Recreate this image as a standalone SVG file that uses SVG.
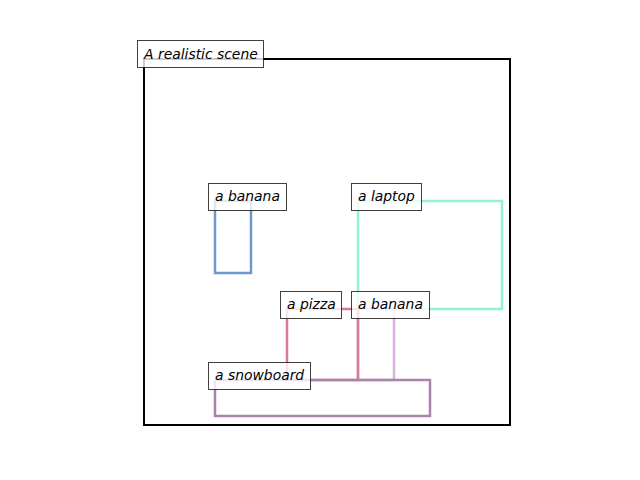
<svg xmlns="http://www.w3.org/2000/svg" width="640" height="480" viewBox="0 0 640 480">
<style>
.box{fill:none;stroke-width:2.5;stroke-linejoin:miter}
.lbl rect{fill:#ffffff;fill-opacity:0.8;stroke:#000000;stroke-opacity:0.75;stroke-width:1}
.lbl text{font-family:"DejaVu Sans",sans-serif;font-style:italic;font-size:13.9px;fill:#000000}
</style>
<rect width="640" height="480" fill="#ffffff"/>
<rect id="frame" x="144" y="59" width="366" height="366" fill="none" stroke="#000000" stroke-width="2"/>
<g id="connectors">
<rect id="box-banana1" class="box" x="215" y="201" width="36" height="72" stroke="#7098cc"/>
<rect id="box-laptop" class="box" x="358" y="201" width="144" height="108" stroke="#8ef5d0"/>
<rect id="box-banana2" class="box" x="358" y="309" width="36" height="71" stroke="#d4b2dc"/>
<rect id="box-pizza" class="box" x="287" y="309" width="71" height="71" stroke="#d87a92"/>
<rect id="box-snowboard" class="box" x="215" y="380" width="215" height="36" stroke="#ab82ae"/>
</g>
<g id="title" class="lbl"><rect x="137.5" y="40.5" width="126" height="27"/><text x="144" y="59">A realistic scene</text></g>
<g id="banana1" class="lbl"><rect x="208.5" y="183.5" width="78" height="27"/><text x="215" y="201">a banana</text></g>
<g id="laptop" class="lbl"><rect x="351.5" y="183.5" width="70" height="27"/><text x="358" y="201">a laptop</text></g>
<g id="pizza" class="lbl"><rect x="280.5" y="291.5" width="61" height="27"/><text x="287" y="309">a pizza</text></g>
<g id="banana2" class="lbl"><rect x="351.5" y="291.5" width="78" height="27"/><text x="358" y="309">a banana</text></g>
<g id="snowboard" class="lbl"><rect x="208.5" y="362.5" width="102" height="27"/><text x="215" y="380">a snowboard</text></g>
</svg>
